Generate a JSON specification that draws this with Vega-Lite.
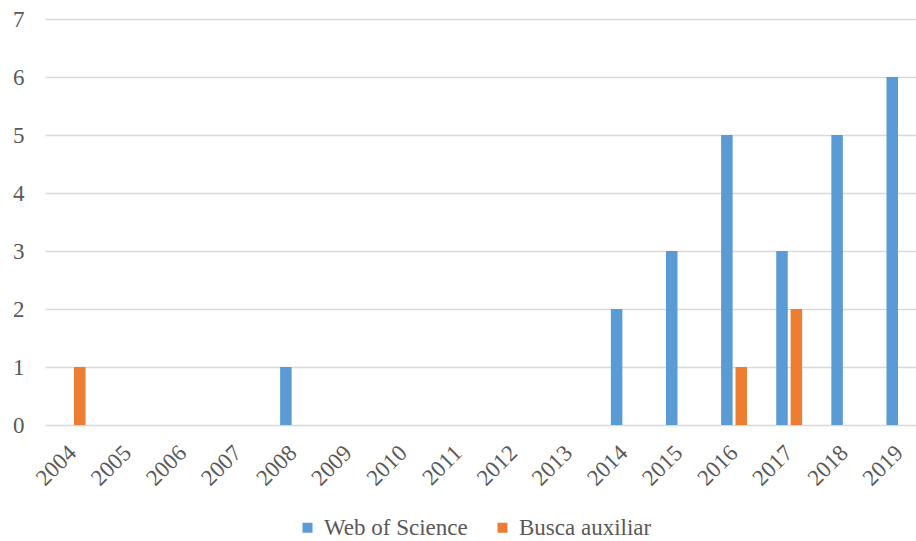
{
  "$schema": "https://vega.github.io/schema/vega-lite/v6.json",
  "autosize": {"type": "none"},
  "width": 871,
  "height": 406,
  "padding": {"left": 45, "top": 19, "right": 0, "bottom": 116},
  "background": "white",
  "data": {"values": [
    {"ano": "2004", "fonte": "Web of Science", "n": 0},
    {"ano": "2004", "fonte": "Busca auxiliar", "n": 1},
    {"ano": "2005", "fonte": "Web of Science", "n": 0},
    {"ano": "2005", "fonte": "Busca auxiliar", "n": 0},
    {"ano": "2006", "fonte": "Web of Science", "n": 0},
    {"ano": "2006", "fonte": "Busca auxiliar", "n": 0},
    {"ano": "2007", "fonte": "Web of Science", "n": 0},
    {"ano": "2007", "fonte": "Busca auxiliar", "n": 0},
    {"ano": "2008", "fonte": "Web of Science", "n": 1},
    {"ano": "2008", "fonte": "Busca auxiliar", "n": 0},
    {"ano": "2009", "fonte": "Web of Science", "n": 0},
    {"ano": "2009", "fonte": "Busca auxiliar", "n": 0},
    {"ano": "2010", "fonte": "Web of Science", "n": 0},
    {"ano": "2010", "fonte": "Busca auxiliar", "n": 0},
    {"ano": "2011", "fonte": "Web of Science", "n": 0},
    {"ano": "2011", "fonte": "Busca auxiliar", "n": 0},
    {"ano": "2012", "fonte": "Web of Science", "n": 0},
    {"ano": "2012", "fonte": "Busca auxiliar", "n": 0},
    {"ano": "2013", "fonte": "Web of Science", "n": 0},
    {"ano": "2013", "fonte": "Busca auxiliar", "n": 0},
    {"ano": "2014", "fonte": "Web of Science", "n": 2},
    {"ano": "2014", "fonte": "Busca auxiliar", "n": 0},
    {"ano": "2015", "fonte": "Web of Science", "n": 3},
    {"ano": "2015", "fonte": "Busca auxiliar", "n": 0},
    {"ano": "2016", "fonte": "Web of Science", "n": 5},
    {"ano": "2016", "fonte": "Busca auxiliar", "n": 1},
    {"ano": "2017", "fonte": "Web of Science", "n": 3},
    {"ano": "2017", "fonte": "Busca auxiliar", "n": 2},
    {"ano": "2018", "fonte": "Web of Science", "n": 5},
    {"ano": "2018", "fonte": "Busca auxiliar", "n": 0},
    {"ano": "2019", "fonte": "Web of Science", "n": 6},
    {"ano": "2019", "fonte": "Busca auxiliar", "n": 0}
  ]},
  "mark": {"type": "bar"},
  "encoding": {
    "x": {
      "field": "ano", "type": "nominal",
      "scale": {"range": [0, 882], "paddingInner": 0.53, "paddingOuter": 0.265},
      "axis": {
        "title": null, "labelAngle": -45, "labelAlign": "right", "labelBaseline": "middle",
        "domain": false, "ticks": false,
        "labelFont": "Liberation Serif", "labelFontSize": 23, "labelColor": "#595959",
        "labelPadding": 24
      }
    },
    "xOffset": {"field": "fonte", "type": "nominal", "sort": ["Web of Science", "Busca auxiliar"], "scale": {"paddingInner": 0.2}},
    "y": {
      "field": "n", "type": "quantitative",
      "scale": {"domain": [0, 7]},
      "axis": {
        "title": null, "values": [0, 1, 2, 3, 4, 5, 6, 7], "labelOverlap": false, "domain": false, "ticks": false,
        "gridColor": "#d9d9d9", "gridWidth": 1.5,
        "labelFont": "Liberation Serif", "labelFontSize": 23, "labelColor": "#595959",
        "labelPadding": 21
      }
    },
    "color": {
      "field": "fonte", "type": "nominal",
      "sort": ["Web of Science", "Busca auxiliar"],
      "scale": {"domain": ["Web of Science", "Busca auxiliar"], "range": ["#5b9bd5", "#ed7d31"]},
      "legend": {
        "title": null, "orient": "none", "legendX": 251, "legendY": 497, "direction": "horizontal",
        "padding": 0, "symbolType": "square", "symbolSize": 100, "symbolStrokeWidth": 0,
        "labelFont": "Liberation Serif", "labelFontSize": 23, "labelColor": "#595959",
        "labelOffset": 5, "columnPadding": 23
      }
    }
  },
  "config": {"view": {"stroke": null}}
}
